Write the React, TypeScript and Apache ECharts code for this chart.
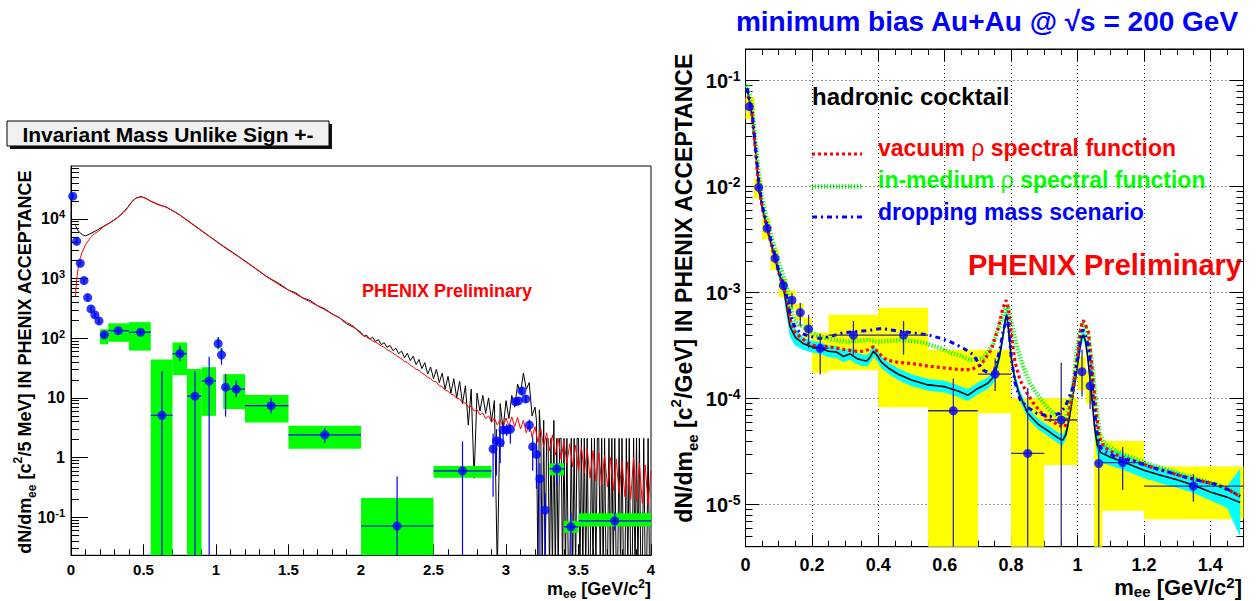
import React, { useEffect, useRef } from "react";
import * as echarts from "echarts";

const FONT = "'Liberation Sans', Arial, Helvetica, sans-serif";

// ================= LEFT PANEL: Invariant Mass Unlike Sign +- =================
const LEFT_X_RANGE = [0, 4];
const LEFT_Y_RANGE = [0.023, 77000];
const leftXMajor = [0, 0.5, 1, 1.5, 2, 2.5, 3, 3.5, 4];
const leftXLabels = ["0", "0.5", "1", "1.5", "2", "2.5", "3", "3.5", "4"];
const leftYDecades = [-1, 0, 1, 2, 3, 4];

// foreground (unlike sign, black histogram)
const fgMassLow = [0.03, 0.045, 0.06, 0.08, 0.1, 0.13, 0.18, 0.22, 0.27, 0.32, 0.36, 0.39, 0.42, 0.45, 0.48, 0.51, 0.55, 0.6, 0.66, 0.75, 0.85, 0.95, 1.05, 1.15, 1.25, 1.35, 1.45, 1.5, 1.55, 1.6, 1.65, 1.7, 1.75, 1.8, 1.85, 1.9, 1.95];
const fgYieldLow = [7800, 6600, 5900, 5400, 5200, 5600, 6500, 7400, 8700, 10500, 12800, 15500, 19500, 22500, 23600, 22600, 19800, 17500, 15700, 11700, 7800, 5200, 3500, 2400, 1620, 1080, 780, 640, 575, 470, 430, 350, 310, 255, 222, 175, 152];
const fgMassMid = [2.0, 2.02, 2.04, 2.06, 2.08, 2.1, 2.12, 2.14, 2.16, 2.18, 2.2, 2.22, 2.24, 2.26, 2.28, 2.3, 2.32, 2.34, 2.36, 2.38, 2.4, 2.42, 2.44, 2.46, 2.48, 2.5, 2.52, 2.54, 2.56, 2.58, 2.6, 2.62, 2.64, 2.66, 2.68, 2.7, 2.72, 2.74, 2.76, 2.78, 2.8, 2.82, 2.84, 2.86, 2.88, 2.9, 2.92, 2.94, 2.96, 2.98, 3.0, 3.02, 3.04, 3.06, 3.08, 3.1, 3.12, 3.14, 3.16, 3.18, 3.2];
const fgYieldMid = [125, 108, 112, 96, 104, 88, 95, 78, 84, 70, 76, 62, 68, 55, 61, 47, 56, 42, 50, 36, 44, 31, 39, 25, 33, 21, 30, 18, 26, 14, 23, 12, 21, 10, 19, 8, 16, 3.5, 14, 0.45, 12, 6, 11, 5.5, 10, 4, 9, 0, 8, 3, 9, 4.5, 11, 7, 17, 12, 26, 14, 18, 5, 7];
const fgMassTail = [3.21, 3.22, 3.23, 3.24, 3.25, 3.26, 3.27, 3.28, 3.29, 3.3, 3.31, 3.32, 3.33, 3.34, 3.35, 3.36, 3.37, 3.38, 3.39, 3.4, 3.41, 3.42, 3.43, 3.44, 3.45, 3.46, 3.47, 3.48, 3.49, 3.5, 3.51, 3.52, 3.53, 3.54, 3.55, 3.56, 3.57, 3.58, 3.59, 3.6, 3.61, 3.62, 3.63, 3.64, 3.65, 3.66, 3.67, 3.68, 3.69, 3.7, 3.71, 3.72, 3.73, 3.74, 3.75, 3.76, 3.77, 3.78, 3.79, 3.8, 3.81, 3.82, 3.83, 3.84, 3.85, 3.86, 3.87, 3.88, 3.89, 3.9, 3.91, 3.92, 3.93, 3.94, 3.95, 3.96, 3.97, 3.98, 3.99, 4.0];
const fgYieldTail = [4.2, 0, 6.3, 2.1, 0, 4.2, 0, 2.1, 2.1, 0, 2.1, 0, 4.2, 0, 2.1, 0, 2.1, 2.1, 0, 2.1, 0, 2.1, 0, 0, 2.1, 0, 2.1, 0, 2.1, 2.1, 0, 2.1, 0, 2.1, 0, 2.1, 0, 0, 2.1, 0, 2.1, 0, 2.1, 2.1, 0, 2.1, 0, 2.1, 0, 0, 2.1, 0, 2.1, 0, 2.1, 0, 0, 2.1, 0, 2.1, 0, 0, 2.1, 0, 2.1, 0, 0, 2.1, 0, 2.1, 0, 2.1, 0, 0, 2.1, 0, 0, 2.1, 0, 0];

// mixed-event background (red histogram)
const bgMassLow = [0.03, 0.04, 0.055, 0.075, 0.1, 0.13, 0.16, 0.2, 0.22, 0.27, 0.32, 0.36, 0.39, 0.42, 0.45, 0.48, 0.51, 0.55, 0.6, 0.66, 0.75, 0.85, 0.95, 1.05, 1.15, 1.25, 1.35, 1.45, 1.5, 1.55, 1.6, 1.65, 1.7, 1.75, 1.8, 1.85, 1.9, 1.95];
const bgYieldLow = [500, 1000, 1900, 2700, 3700, 4700, 5600, 6500, 7300, 8600, 10400, 12700, 15300, 19300, 22300, 23400, 22400, 19700, 17400, 15600, 11600, 7700, 5150, 3450, 2370, 1600, 1070, 750, 640, 550, 470, 405, 350, 300, 258, 220, 185, 158];
const bgMassHigh = [2.0, 2.02, 2.04, 2.06, 2.08, 2.1, 2.12, 2.14, 2.16, 2.18, 2.2, 2.22, 2.24, 2.26, 2.28, 2.3, 2.32, 2.34, 2.36, 2.38, 2.4, 2.42, 2.44, 2.46, 2.48, 2.5, 2.52, 2.54, 2.56, 2.58, 2.6, 2.62, 2.64, 2.66, 2.68, 2.7, 2.72, 2.74, 2.76, 2.78, 2.8, 2.82, 2.84, 2.86, 2.88, 2.9, 2.92, 2.94, 2.96, 2.98, 3.0, 3.02, 3.04, 3.06, 3.08, 3.1, 3.12, 3.14, 3.16, 3.18, 3.2, 3.22, 3.24, 3.26, 3.28, 3.3, 3.32, 3.34, 3.36, 3.38, 3.4, 3.42, 3.44, 3.46, 3.48, 3.5, 3.52, 3.54, 3.56, 3.58, 3.6, 3.62, 3.64, 3.66, 3.68, 3.7, 3.72, 3.74, 3.76, 3.78, 3.8, 3.82, 3.84, 3.86, 3.88, 3.9, 3.92, 3.94, 3.96, 3.98, 4.0];
const bgYieldHigh = [118, 110, 104, 99, 90, 86, 80, 74, 71, 64, 61, 56, 52, 48, 45, 41, 39, 35, 33, 30, 29, 26, 24.5, 22, 21, 19, 18.5, 16, 15.5, 13.5, 13, 11.5, 11.2, 9.8, 9.6, 8.3, 8.2, 7, 7.3, 6, 6.4, 5.2, 5.6, 4.5, 5, 3.9, 4.6, 3.5, 4.3, 3.2, 4.6, 3.4, 4.8, 3.3, 4.7, 3.0, 4.2, 2.6, 3.8, 2.2, 3.3, 1.8, 3.0, 1.5, 2.6, 1.3, 2.4, 1.1, 2.1, 0.95, 1.9, 0.8, 1.7, 0.7, 1.6, 0.6, 1.5, 0.55, 1.4, 0.45, 1.3, 0.4, 1.2, 0.35, 1.1, 0.32, 1.0, 0.28, 0.95, 0.25, 0.9, 0.22, 0.85, 0.2, 1.0, 0.18, 0.8, 0.17, 0.75, 0.16, 0.6];

// signal points (blue), stat errors, systematic boxes (green)
const sigMass = [0.012, 0.039, 0.064, 0.09, 0.115, 0.138, 0.165, 0.193, 0.23, 0.326, 0.48, 0.627, 0.751, 0.855, 0.953, 1.015, 1.038, 1.066, 1.14, 1.38, 1.75, 2.249, 2.7, 2.911, 2.934, 2.96, 2.98, 3.005, 3.03, 3.065, 3.085, 3.11, 3.136, 3.161, 3.184, 3.21, 3.234, 3.27, 3.35, 3.448, 3.75];
const sigYield = [24000, 4200, 1800, 925, 480, 310, 246, 195, 114, 134, 126, 5.1, 55, 10.7, 19.2, 81, 52.6, 15.1, 14.0, 7.4, 2.4, 0.0713, 0.6, 1.39, 1.92, 1.78, 2.9, 2.9, 2.98, 8.65, 8.9, 13.1, 9.6, 3.5, 1.52, 1.13, 0.44, 0.132, 0.645, 0.069, 0.087];
const sigStatLow = [22000, 3900, 1680, 860, 445, 285, 225, 178, 100, 120, 112, 0, 41, 0, 0, 68, 36, 4.85, 10.2, 5.5, 1.75, 0, 0, 0.22, 0.5, 0.8, 1.5, 2.3, 1.7, 7.5, 7.7, 11, 8.3, 2.7, 0.6, 0.3, 0, 0, 0.35, 0, 0.06];
const sigStatHigh = [26000, 4500, 1920, 990, 515, 335, 268, 212, 128, 150, 140, 28, 75, 27.6, 49, 105, 68, 25, 19.5, 10, 3.1, 0.48, 1.86, 2.5, 3.0, 2.8, 3.6, 3.6, 3.6, 10, 10.2, 15, 11, 4.3, 2.2, 1.6, 0.8, 0.25, 0.85, 0.12, 0.12];
const sigBinLow = [0.004, 0.031, 0.056, 0.082, 0.107, 0.13, 0.157, 0.185, 0.2, 0.257, 0.4, 0.55, 0.7, 0.8, 0.9, 1.007, 1.03, 1.05, 1.09, 1.2, 1.5, 2.0, 2.5, 2.903, 2.926, 2.952, 2.972, 2.997, 3.022, 3.057, 3.077, 3.102, 3.128, 3.153, 3.176, 3.202, 3.226, 3.262, 3.3, 3.4, 3.5];
const sigBinHigh = [0.02, 0.047, 0.072, 0.098, 0.123, 0.146, 0.173, 0.201, 0.257, 0.4, 0.55, 0.7, 0.8, 0.9, 1.0, 1.023, 1.046, 1.09, 1.2, 1.5, 2.0, 2.5, 2.9, 2.919, 2.942, 2.968, 2.988, 3.013, 3.038, 3.073, 3.093, 3.118, 3.144, 3.169, 3.192, 3.218, 3.242, 3.278, 3.4, 3.5, 4.0];
const sigHasBinBar = [0, 0, 0, 0, 0, 0, 0, 0, 1, 1, 1, 1, 1, 1, 1, 0, 0, 0, 1, 1, 1, 1, 1, 0, 0, 0, 0, 0, 0, 0, 0, 0, 0, 0, 0, 0, 0, 0, 1, 1, 1];
const sigSysLow = [21000, 3700, 1580, 810, 420, 272, 215, 170, 79, 87, 62, 0, 24, 0, 5.0, 65, 43, 6.5, 6.5, 3.85, 1.4, 0, 0.46, 1.2, 1.65, 1.55, 2.5, 2.5, 2.6, 7.5, 7.7, 11.3, 8.3, 3.0, 1.3, 0.97, 0.38, 0.113, 0.5, 0.055, 0.07];
const sigSysHigh = [27000, 4800, 2050, 1050, 545, 352, 280, 222, 141, 178, 186, 44, 85, 30.5, 32.7, 100, 68, 25, 25, 11.2, 3.4, 0.21, 0.72, 1.6, 2.2, 2.05, 3.35, 3.35, 3.45, 10, 10.3, 15.2, 11.1, 4.05, 1.76, 1.31, 0.51, 0.153, 0.8, 0.087, 0.117];

// ================= RIGHT PANEL: minimum bias Au+Au =================
const RIGHT_X_RANGE = [0, 1.5];
const RIGHT_Y_RANGE = [4.02e-6, 0.199];
const rightXMajor = [0, 0.2, 0.4, 0.6, 0.8, 1, 1.2, 1.4];
const rightXLabels = ["0", "0.2", "0.4", "0.6", "0.8", "1", "1.2", "1.4"];
const rightXMinor = [0.05, 0.1, 0.15, 0.25, 0.3, 0.35, 0.45, 0.5, 0.55, 0.65, 0.7, 0.75, 0.85, 0.9, 0.95, 1.05, 1.1, 1.15, 1.25, 1.3, 1.35, 1.45];
const rightYDecades = [-5, -4, -3, -2, -1];

// hadronic cocktail (black line) and its systematic band (cyan, half width in decades)
const cocktailMass = [0.005, 0.01, 0.02, 0.03, 0.04, 0.052, 0.065, 0.077, 0.089, 0.101, 0.114, 0.124, 0.134, 0.15, 0.175, 0.2, 0.225, 0.25, 0.275, 0.295, 0.315, 0.335, 0.35, 0.365, 0.375, 0.385, 0.395, 0.41, 0.43, 0.46, 0.5, 0.55, 0.6, 0.64, 0.67, 0.7, 0.73, 0.75, 0.765, 0.775, 0.782, 0.787, 0.792, 0.8, 0.81, 0.825, 0.85, 0.88, 0.91, 0.94, 0.955, 0.965, 0.975, 0.985, 0.995, 1.005, 1.012, 1.018, 1.024, 1.03, 1.038, 1.045, 1.052, 1.06, 1.07, 1.1, 1.15, 1.2, 1.25, 1.3, 1.35, 1.4, 1.45, 1.49];
const cocktailYield = [0.085, 0.068, 0.047, 0.022, 0.0098, 0.006, 0.0041, 0.0029, 0.0021, 0.00152, 0.00115, 0.00074, 0.00048, 0.00038, 0.00033, 0.00031, 0.0003, 0.00028, 0.000275, 0.00025, 0.000265, 0.00024, 0.000232, 0.000227, 0.000245, 0.00028, 0.00026, 0.00022, 0.000195, 0.00017, 0.00015, 0.000135, 0.00013, 0.000118, 0.000108, 0.000125, 0.00014, 0.000165, 0.00025, 0.00038, 0.00055, 0.00062, 0.00045, 0.00025, 0.00016, 0.00011, 7.3e-5, 5.8e-5, 5e-5, 4.3e-5, 4.05e-5, 4.6e-5, 6.5e-5, 1e-4, 1.6e-4, 2.7e-4, 3.7e-4, 4e-4, 3.5e-4, 2.6e-4, 1.5e-4, 9e-5, 5.2e-5, 3.6e-5, 3.1e-5, 2.8e-5, 2.45e-5, 2.12e-5, 1.9e-5, 1.72e-5, 1.53e-5, 1.32e-5, 1.18e-5, 1.05e-5];
const cocktailSysDex = [0.05, 0.05, 0.05, 0.05, 0.05, 0.05, 0.05, 0.05, 0.05, 0.06, 0.07, 0.09, 0.1, 0.08, 0.06, 0.055, 0.055, 0.055, 0.055, 0.055, 0.055, 0.055, 0.055, 0.055, 0.055, 0.055, 0.055, 0.055, 0.055, 0.055, 0.055, 0.055, 0.055, 0.055, 0.055, 0.055, 0.055, 0.055, 0.055, 0.055, 0.055, 0.055, 0.055, 0.055, 0.055, 0.05, 0.05, 0.05, 0.05, 0.05, 0.05, 0.05, 0.05, 0.05, 0.05, 0.05, 0.05, 0.05, 0.05, 0.05, 0.05, 0.06, 0.08, 0.1, 0.09, 0.08, 0.075, 0.075, 0.075, 0.075, 0.075, 0.08, 0.1, 0.32];

// vacuum rho spectral function (red dotted)
const vacuumMass = [0.005, 0.01, 0.02, 0.03, 0.04, 0.052, 0.065, 0.077, 0.089, 0.101, 0.114, 0.125, 0.135, 0.15, 0.175, 0.2, 0.25, 0.3, 0.345, 0.37, 0.385, 0.4, 0.425, 0.46, 0.5, 0.55, 0.6, 0.65, 0.68, 0.71, 0.74, 0.76, 0.775, 0.785, 0.792, 0.8, 0.812, 0.827, 0.85, 0.867, 0.89, 0.917, 0.945, 0.962, 0.972, 0.982, 0.992, 1.003, 1.01, 1.017, 1.024, 1.033, 1.04, 1.048, 1.056, 1.066, 1.08, 1.118, 1.17, 1.218, 1.27, 1.319, 1.37, 1.42, 1.46, 1.49];
const vacuumYield = [0.082, 0.067, 0.047, 0.022, 0.0099, 0.006, 0.0041, 0.0029, 0.0021, 0.00152, 0.00116, 0.00085, 0.00055, 0.00042, 0.00036, 0.00032, 0.00031, 0.00029, 0.000277, 0.00029, 0.00031, 0.00027, 0.000232, 0.00022, 0.000215, 0.000203, 0.000195, 0.000188, 0.000188, 0.00021, 0.00029, 0.00045, 0.00071, 0.00085, 0.0007, 0.00042, 0.00022, 0.00015, 0.00011, 9.1e-5, 7.4e-5, 6.3e-5, 5.6e-5, 5.4e-5, 6.8e-5, 1e-4, 1.7e-4, 3e-4, 4.7e-4, 5.5e-4, 5e-4, 4.2e-4, 2.5e-4, 1.4e-4, 7.5e-5, 4.3e-5, 3.5e-5, 2.95e-5, 2.6e-5, 2.29e-5, 2.05e-5, 1.84e-5, 1.68e-5, 1.55e-5, 1.35e-5, 1.2e-5];

// in-medium rho spectral function (green)
const inMediumMass = [0.005, 0.01, 0.02, 0.03, 0.04, 0.05, 0.065, 0.08, 0.09, 0.1, 0.115, 0.125, 0.135, 0.145, 0.16, 0.184, 0.21, 0.245, 0.3, 0.365, 0.405, 0.465, 0.525, 0.586, 0.62, 0.646, 0.676, 0.716, 0.746, 0.765, 0.777, 0.789, 0.797, 0.805, 0.82, 0.837, 0.857, 0.877, 0.9, 0.917, 0.94, 0.962, 0.972, 0.982, 0.99, 0.997, 1.007, 1.016, 1.025, 1.033, 1.04, 1.048, 1.056, 1.066, 1.08, 1.118, 1.17, 1.218, 1.27, 1.319, 1.37, 1.42, 1.46, 1.49];
const inMediumYield = [0.09, 0.078, 0.055, 0.027, 0.013, 0.0078, 0.0048, 0.0032, 0.0025, 0.0019, 0.0014, 0.0011, 0.00075, 0.00056, 0.0005, 0.00046, 0.0004, 0.00037, 0.000345, 0.000358, 0.000345, 0.000358, 0.000345, 0.0003, 0.00027, 0.000255, 0.000232, 0.00024, 0.00033, 0.00049, 0.00064, 0.00077, 0.0006, 0.00045, 0.00029, 0.0002, 0.00014, 0.000112, 8.9e-5, 7.8e-5, 6.8e-5, 6.3e-5, 7.8e-5, 1.05e-4, 1.6e-4, 2.7e-4, 4.2e-4, 5.1e-4, 4.7e-4, 3.8e-4, 2.6e-4, 1.63e-4, 9e-5, 4.7e-5, 3.8e-5, 3.2e-5, 2.75e-5, 2.4e-5, 2.15e-5, 1.9e-5, 1.72e-5, 1.55e-5, 1.38e-5, 1.22e-5];

// dropping mass scenario (blue dash-dot)
const droppingMass = [0.005, 0.01, 0.02, 0.03, 0.04, 0.05, 0.065, 0.08, 0.09, 0.1, 0.115, 0.125, 0.135, 0.145, 0.164, 0.19, 0.225, 0.26, 0.295, 0.33, 0.37, 0.41, 0.45, 0.5, 0.55, 0.59, 0.616, 0.656, 0.686, 0.716, 0.746, 0.765, 0.777, 0.789, 0.795, 0.8, 0.812, 0.827, 0.85, 0.877, 0.917, 0.947, 0.962, 0.972, 0.987, 1.002, 1.01, 1.016, 1.024, 1.033, 1.04, 1.048, 1.056, 1.066, 1.08, 1.118, 1.17, 1.218, 1.27, 1.319, 1.37, 1.42, 1.46, 1.49];
const droppingYield = [0.085, 0.072, 0.05, 0.024, 0.011, 0.0068, 0.0043, 0.0029, 0.0022, 0.0016, 0.0012, 0.0009, 0.00062, 0.0005, 0.00042, 0.00039, 0.00037, 0.00039, 0.00042, 0.00043, 0.00044, 0.00046, 0.00044, 0.00042, 0.0004, 0.00037, 0.000345, 0.0003, 0.00026, 0.000186, 0.000167, 0.00028, 0.00045, 0.00058, 0.0004, 0.00025, 0.00014, 9.8e-5, 8.3e-5, 7.3e-5, 6.8e-5, 7.3e-5, 8.3e-5, 9.8e-5, 1.3e-4, 2.5e-4, 3.8e-4, 4.5e-4, 4e-4, 3.1e-4, 2e-4, 9.8e-5, 5.5e-5, 3.6e-5, 3.2e-5, 2.8e-5, 2.55e-5, 2.28e-5, 2.05e-5, 1.84e-5, 1.68e-5, 1.55e-5, 1.36e-5, 1.2e-5];

// measured points (blue), stat errors, systematic boxes (yellow)
const dataMass = [0.0115, 0.0398, 0.065, 0.089, 0.114, 0.14, 0.165, 0.19, 0.225, 0.325, 0.476, 0.626, 0.752, 0.85, 0.951, 1.0136, 1.038, 1.064, 1.136, 1.349];
const dataYield = [0.0569, 0.00987, 0.00405, 0.00211, 0.00117, 0.00085, 0.00065, 0.000455, 0.000299, 0.000398, 0.000398, 7.7e-5, 0.000171, 3.05e-5, 6.3e-5, 0.00018, 0.000132, 2.45e-5, 2.5e-5, 1.5e-5];
const dataStatLow = [0.054, 0.0094, 0.00385, 0.002, 0.00105, 0.00072, 0.00048, 0.0003, 0.00017, 0.00026, 0.00026, 0, 0.000118, 0, 0, 0.000105, 8e-5, 0, 1.38e-5, 1.07e-5];
const dataStatHigh = [0.06, 0.0104, 0.00426, 0.00223, 0.0013, 0.001, 0.0008, 0.00062, 0.00041, 0.00054, 0.00054, 0.000155, 0.00024, 0.000126, 0.00022, 0.00029, 0.00019, 4e-5, 3.5e-5, 1.95e-5];
const dataBinLow = [0, 0.025, 0.05, 0.075, 0.1, 0.125, 0.15, 0.175, 0.2, 0.25, 0.4, 0.55, 0.7, 0.8, 0.9, 1.0, 1.025, 1.05, 1.075, 1.2];
const dataBinHigh = [0.028, 0.05, 0.075, 0.1, 0.125, 0.15, 0.175, 0.2, 0.25, 0.4, 0.55, 0.7, 0.8, 0.9, 1.0, 1.025, 1.05, 1.075, 1.2, 1.5];
const dataHasBinBar = [0, 0, 0, 0, 0, 0, 0, 0, 1, 1, 1, 1, 1, 1, 1, 0, 0, 0, 1, 1];
const dataSysLow = [0.0433, 0.00776, 0.00319, 0.00164, 0.00091, 0.00071, 0.00055, 0.00037, 0.000176, 0.000186, 8.3e-5, 0, 7.3e-5, 0, 2.37e-5, 0.00012, 9e-5, 0, 8.8e-6, 7.3e-6];
const dataSysHigh = [0.0697, 0.012, 0.00501, 0.00257, 0.00135, 0.00105, 0.00079, 0.00058, 0.00042, 0.00062, 0.00072, 0.00029, 0.00029, 0.000101, 0.000101, 0.00025, 0.00018, 4.7e-5, 4e-5, 2.29e-5];

// ================= helpers =================
const lg = (v: number, floor: number) => (v > 0 ? Math.max(Math.log10(v), floor) : floor);

function minorLogTicks(lo: number, hi: number) {
  const out: number[] = [];
  for (let k = Math.floor(lo) - 1; k <= Math.ceil(hi); k++) {
    for (let j = 2; j <= 9; j++) {
      const v = k + Math.log10(j);
      if (v > lo + 1e-6 && v < hi - 1e-6) out.push(v);
    }
  }
  return out;
}

function leftXMinorTicks() {
  const out: number[] = [];
  for (let i = 1; i < 40; i++) if (i % 5 !== 0) out.push(i / 10);
  return out;
}

const black = "#000";

function boxSeries(xi: number, yi: number, items: number[][], color: string, z: number) {
  return {
    type: "custom",
    xAxisIndex: xi,
    yAxisIndex: yi,
    silent: true,
    z,
    dimensions: ["x0", "x1", "y0", "y1"],
    encode: { x: [0, 1], y: [2, 3] },
    data: items,
    renderItem: (_p: any, api: any) => {
      const a = api.coord([api.value(0), api.value(3)]);
      const b = api.coord([api.value(1), api.value(2)]);
      return {
        type: "rect",
        shape: { x: a[0], y: a[1], width: b[0] - a[0], height: b[1] - a[1] },
        style: { fill: color },
      };
    },
  };
}

function errSeries(xi: number, yi: number, items: number[][], color: string, width: number, z: number) {
  return {
    type: "custom",
    xAxisIndex: xi,
    yAxisIndex: yi,
    silent: true,
    z,
    dimensions: ["x", "ylo", "yhi", "xlo", "xhi", "y"],
    encode: { x: [0, 3, 4], y: [1, 2, 5] },
    data: items,
    renderItem: (_p: any, api: any) => {
      const top = api.coord([api.value(0), api.value(2)]);
      const bot = api.coord([api.value(0), api.value(1)]);
      const children: any[] = [
        { type: "line", shape: { x1: top[0], y1: top[1], x2: bot[0], y2: bot[1] }, style: { stroke: color, lineWidth: width } },
      ];
      if (api.value(4) > api.value(3)) {
        const l = api.coord([api.value(3), api.value(5)]);
        const r = api.coord([api.value(4), api.value(5)]);
        children.push({ type: "line", shape: { x1: l[0], y1: l[1], x2: r[0], y2: r[1] }, style: { stroke: color, lineWidth: width } });
      }
      return { type: "group", children };
    },
  };
}

const supRich = (size: number) => ({
  s: { fontSize: size, fontWeight: "bold", fontFamily: FONT, color: black, verticalAlign: "top", lineHeight: size },
});

function buildOption() {
  const LMIN = Math.log10(LEFT_Y_RANGE[0]);
  const LMAX = Math.log10(LEFT_Y_RANGE[1]);
  const RMIN = Math.log10(RIGHT_Y_RANGE[0]);
  const RMAX = Math.log10(RIGHT_Y_RANGE[1]);

  // ---- left data
  const fgMass = [...fgMassLow, ...fgMassMid, ...fgMassTail];
  const fgYield = [...fgYieldLow, ...fgYieldMid, ...fgYieldTail];
  const fgData = fgMass.map((m, i) => [m, lg(fgYield[i], LMIN - 0.3)]);
  const bgMass = [...bgMassLow, ...bgMassHigh];
  const bgYield = [...bgYieldLow, ...bgYieldHigh];
  const bgData = bgMass.map((m, i) => [m, lg(bgYield[i], LMIN - 0.3)]);
  const sigBoxes = sigMass.map((_m, i) => [sigBinLow[i], sigBinHigh[i], lg(sigSysLow[i], LMIN), lg(sigSysHigh[i], LMIN)]);
  const sigErr = sigMass.map((m, i) => [
    m,
    lg(sigStatLow[i], LMIN),
    lg(sigStatHigh[i], LMIN),
    sigHasBinBar[i] ? sigBinLow[i] : m,
    sigHasBinBar[i] ? sigBinHigh[i] : m,
    lg(sigYield[i], LMIN),
  ]);
  const sigPts = sigMass.map((m, i) => [m, lg(sigYield[i], LMIN)]);

  // ---- right data
  const toLine = (ms: number[], ys: number[]) => ms.map((m, i) => [m, lg(ys[i], RMIN - 0.3)]);
  const dataBoxes = dataMass.map((_m, i) => [dataBinLow[i], dataBinHigh[i], lg(dataSysLow[i], RMIN), lg(dataSysHigh[i], RMIN)]);
  const dataErr = dataMass.map((m, i) => [
    m,
    lg(dataStatLow[i], RMIN),
    lg(dataStatHigh[i], RMIN),
    dataHasBinBar[i] ? dataBinLow[i] : m,
    dataHasBinBar[i] ? dataBinHigh[i] : m,
    lg(dataYield[i], RMIN),
  ]);
  const dataPts = dataMass.map((m, i) => [m, lg(dataYield[i], RMIN)]);

  const bandSeries = {
    type: "custom",
    xAxisIndex: 2,
    yAxisIndex: 2,
    silent: true,
    z: 2,
    data: [[0, RMIN]],
    renderItem: (_p: any, api: any) => {
      const upper = cocktailMass.map((m, i) => api.coord([m, Math.log10(cocktailYield[i]) + cocktailSysDex[i]]));
      const lower = cocktailMass.map((m, i) => api.coord([m, Math.log10(cocktailYield[i]) - cocktailSysDex[i]])).reverse();
      return { type: "polygon", shape: { points: [...upper, ...lower] }, style: { fill: "#00ffff" } };
    },
  };

  const axisLineStyle = { color: black, width: 1 };
  const noSplit = { show: false };

  const leftYFmt = (v: number) => {
    const k = Math.round(v);
    if (k === 0) return "1";
    if (k === 1) return "10";
    return "10{s|" + k + "}";
  };
  const rightYFmt = (v: number) => "10{s|" + Math.round(v) + "}";

  const xAxis = [
    // 0: left bottom major
    {
      gridIndex: 0, type: "value", min: LEFT_X_RANGE[0], max: LEFT_X_RANGE[1], position: "bottom",
      axisLine: { show: true, onZero: false, lineStyle: axisLineStyle },
      axisTick: { show: true, inside: true, length: 11, customValues: leftXMajor, lineStyle: axisLineStyle },
      axisLabel: {
        show: true, customValues: leftXMajor, margin: 7, fontSize: 15, fontWeight: "bold", fontFamily: FONT, color: black,
        formatter: (v: number) => leftXLabels[leftXMajor.indexOf(v)] ?? String(v),
      },
      splitLine: noSplit,
    },
    // 1: left bottom minor
    {
      gridIndex: 0, type: "value", min: LEFT_X_RANGE[0], max: LEFT_X_RANGE[1], position: "bottom",
      axisLine: { show: false, onZero: false },
      axisTick: { show: true, inside: true, length: 6, customValues: leftXMinorTicks(), lineStyle: axisLineStyle },
      axisLabel: { show: false }, splitLine: noSplit,
    },
    // 2: right bottom major
    {
      gridIndex: 1, type: "value", min: RIGHT_X_RANGE[0], max: RIGHT_X_RANGE[1], position: "bottom",
      axisLine: { show: true, onZero: false, lineStyle: axisLineStyle },
      axisTick: { show: true, inside: true, length: 12, customValues: rightXMajor, lineStyle: axisLineStyle },
      axisLabel: {
        show: true, customValues: rightXMajor, margin: 9, fontSize: 18, fontWeight: "bold", fontFamily: FONT, color: black,
        formatter: (v: number) => rightXLabels[rightXMajor.indexOf(v)] ?? String(v),
      },
      splitLine: { show: true, lineStyle: { color: "#333", width: 1, type: [1, 3] } },
    },
    // 3: right bottom minor
    {
      gridIndex: 1, type: "value", min: RIGHT_X_RANGE[0], max: RIGHT_X_RANGE[1], position: "bottom",
      axisLine: { show: false, onZero: false },
      axisTick: { show: true, inside: true, length: 6, customValues: rightXMinor, lineStyle: axisLineStyle },
      axisLabel: { show: false }, splitLine: noSplit,
    },
    // 4: right top major
    {
      gridIndex: 1, type: "value", min: RIGHT_X_RANGE[0], max: RIGHT_X_RANGE[1], position: "top",
      axisLine: { show: true, onZero: false, lineStyle: axisLineStyle },
      axisTick: { show: true, inside: true, length: 12, customValues: rightXMajor, lineStyle: axisLineStyle },
      axisLabel: { show: false }, splitLine: noSplit,
    },
    // 5: right top minor
    {
      gridIndex: 1, type: "value", min: RIGHT_X_RANGE[0], max: RIGHT_X_RANGE[1], position: "top",
      axisLine: { show: false, onZero: false },
      axisTick: { show: true, inside: true, length: 6, customValues: rightXMinor, lineStyle: axisLineStyle },
      axisLabel: { show: false }, splitLine: noSplit,
    },
  ];

  const yAxis = [
    // 0: left major
    {
      gridIndex: 0, type: "value", min: LMIN, max: LMAX, position: "left",
      axisLine: { show: true, onZero: false, lineStyle: axisLineStyle },
      axisTick: { show: true, inside: true, length: 17, customValues: leftYDecades, lineStyle: axisLineStyle },
      axisLabel: {
        show: true, customValues: leftYDecades, margin: 6, fontSize: 16, fontWeight: "bold", fontFamily: FONT, color: black,
        lineHeight: 20, formatter: leftYFmt, rich: supRich(11),
      },
      splitLine: noSplit,
    },
    // 1: left minor
    {
      gridIndex: 0, type: "value", min: LMIN, max: LMAX, position: "left",
      axisLine: { show: false, onZero: false },
      axisTick: { show: true, inside: true, length: 8, customValues: minorLogTicks(LMIN, LMAX), lineStyle: axisLineStyle },
      axisLabel: { show: false }, splitLine: noSplit,
    },
    // 2: right panel left major
    {
      gridIndex: 1, type: "value", min: RMIN, max: RMAX, position: "left",
      axisLine: { show: true, onZero: false, lineStyle: axisLineStyle },
      axisTick: { show: true, inside: true, length: 14, customValues: rightYDecades, lineStyle: axisLineStyle },
      axisLabel: {
        show: true, customValues: rightYDecades, margin: 5, fontSize: 20, fontWeight: "bold", fontFamily: FONT, color: black,
        lineHeight: 24, formatter: rightYFmt, rich: supRich(14),
      },
      splitLine: { show: true, lineStyle: { color: "#333", width: 1, type: [1, 3] } },
    },
    // 3: right panel left minor
    {
      gridIndex: 1, type: "value", min: RMIN, max: RMAX, position: "left",
      axisLine: { show: false, onZero: false },
      axisTick: { show: true, inside: true, length: 7, customValues: minorLogTicks(RMIN, RMAX), lineStyle: axisLineStyle },
      axisLabel: { show: false }, splitLine: noSplit,
    },
    // 4: right panel right major
    {
      gridIndex: 1, type: "value", min: RMIN, max: RMAX, position: "right",
      axisLine: { show: true, onZero: false, lineStyle: axisLineStyle },
      axisTick: { show: true, inside: true, length: 14, customValues: rightYDecades, lineStyle: axisLineStyle },
      axisLabel: { show: false }, splitLine: noSplit,
    },
    // 5: right panel right minor
    {
      gridIndex: 1, type: "value", min: RMIN, max: RMAX, position: "right",
      axisLine: { show: false, onZero: false },
      axisTick: { show: true, inside: true, length: 7, customValues: minorLogTicks(RMIN, RMAX), lineStyle: axisLineStyle },
      axisLabel: { show: false }, splitLine: noSplit,
    },
  ];

  const lineBase = { type: "line", symbol: "none", silent: true, animation: false, smooth: false };

  const series: any[] = [
    // ----- left
    { ...lineBase, name: "unlike sign", xAxisIndex: 0, yAxisIndex: 0, z: 2, data: fgData, lineStyle: { color: black, width: 1 } },
    { ...lineBase, name: "mixed background", xAxisIndex: 0, yAxisIndex: 0, z: 3, data: bgData, lineStyle: { color: "#ff0000", width: 1 } },
    boxSeries(0, 0, sigBoxes, "#00ff00", 4),
    errSeries(0, 0, sigErr, "#0000ff", 1.2, 5),
    { type: "scatter", xAxisIndex: 0, yAxisIndex: 0, z: 6, silent: true, symbol: "circle", symbolSize: 9, itemStyle: { color: "#0000ff" }, data: sigPts },
    // ----- right
    boxSeries(2, 2, dataBoxes, "#ffff00", 1),
    bandSeries,
    { ...lineBase, name: "hadronic cocktail", xAxisIndex: 2, yAxisIndex: 2, z: 3, data: toLine(cocktailMass, cocktailYield), lineStyle: { color: black, width: 1.6 } },
    { ...lineBase, name: "in-medium", xAxisIndex: 2, yAxisIndex: 2, z: 4, data: toLine(inMediumMass, inMediumYield), lineStyle: { color: "#00ff00", width: 4.5, type: [1.2, 1.8] } },
    { ...lineBase, name: "vacuum", xAxisIndex: 2, yAxisIndex: 2, z: 4, data: toLine(vacuumMass, vacuumYield), lineStyle: { color: "#ff0000", width: 3.2, type: [3, 3] } },
    { ...lineBase, name: "dropping mass", xAxisIndex: 2, yAxisIndex: 2, z: 4, data: toLine(droppingMass, droppingYield), lineStyle: { color: "#0000ff", width: 3, type: [5, 4, 2, 4] } },
    errSeries(2, 2, dataErr, "#2d2d8a", 1.3, 5),
    { type: "scatter", xAxisIndex: 2, yAxisIndex: 2, z: 6, silent: true, symbol: "circle", symbolSize: 9, itemStyle: { color: "#0000ff" }, data: dataPts },
  ];

  const txt = (x: number, y: number, text: string, size: number, fill: string, align = "left", extra: any = {}) => ({
    type: "text", x, y, silent: true,
    style: { text, fontSize: size, fontWeight: "bold", fontFamily: FONT, fill, align, verticalAlign: "middle", ...extra },
  });
  const subSup = (size: number) => ({
    sub: { fontSize: size, fontWeight: "bold", fontFamily: FONT, fill: black, lineHeight: size, verticalAlign: "bottom" },
    sup: { fontSize: size, fontWeight: "bold", fontFamily: FONT, fill: black, lineHeight: size, verticalAlign: "top" },
  });

  const graphic = [
    // left title box
    { type: "rect", silent: true, shape: { x: 10, y: 124, width: 322, height: 25 }, style: { fill: "#111" } },
    { type: "rect", silent: true, shape: { x: 7, y: 121, width: 322, height: 25 }, style: { fill: "#f0f0f0", stroke: black, lineWidth: 1 } },
    txt(168, 134, "Invariant Mass Unlike Sign +-", 21, black, "center"),
    // left axis titles
    { ...txt(25, 362, "dN/dm{sub|ee} [c{sup|2}/5 MeV] IN PHENIX ACCEPTANCE", 18, black, "center", { lineHeight: 26, rich: subSup(12) }), rotation: Math.PI / 2 },
    txt(651, 589, "m{sub|ee} [GeV/c{sup|2}]", 18, black, "right", { lineHeight: 22, rich: subSup(12) }),
    txt(362, 291, "PHENIX Preliminary", 18, "#ff0000"),
    // right panel texts
    txt(987, 21, "minimum bias Au+Au @ \u221As = 200 GeV", 28, "#0000ff", "center"),
    { ...txt(684, 288, "dN/dm{sub|ee} [c{sup|2}/GeV] IN PHENIX ACCEPTANCE", 23, black, "center", { lineHeight: 32, rich: subSup(15) }), rotation: Math.PI / 2 },
    txt(1242, 587, "m{sub|ee} [GeV/c{sup|2}]", 22, black, "right", { lineHeight: 24, rich: subSup(15) }),
    txt(812, 96, "hadronic cocktail", 24, black),
    { type: "line", silent: true, shape: { x1: 812, y1: 154, x2: 862, y2: 154 }, style: { stroke: "#ff0000", lineWidth: 3.2, lineDash: [3, 3] } },
    txt(878, 148, "vacuum {r|\u03C1} spectral function", 23, "#ff0000", "left", { rich: { r: { fontSize: 23, fontWeight: "normal", fontFamily: FONT, fill: "#ff0000" } } }),
    { type: "line", silent: true, shape: { x1: 812, y1: 186.5, x2: 862, y2: 186.5 }, style: { stroke: "#00ff00", lineWidth: 4.5, lineDash: [1.2, 1.8] } },
    txt(878, 180, "in-medium {r|\u03C1} spectral function", 23, "#00ff00", "left", { rich: { r: { fontSize: 23, fontWeight: "normal", fontFamily: FONT, fill: "#00ff00" } } }),
    { type: "line", silent: true, shape: { x1: 812, y1: 217, x2: 862, y2: 217 }, style: { stroke: "#0000ff", lineWidth: 3, lineDash: [5, 4, 2, 4] } },
    txt(878, 212, "dropping mass scenario", 23, "#0000ff"),
    txt(968, 265, "PHENIX Preliminary", 29, "#ff0000"),
  ];

  return {
    animation: false,
    backgroundColor: "#ffffff",
    textStyle: { fontFamily: FONT },
    grid: [
      { left: 71, top: 166, width: 580, height: 389.3, show: true, borderColor: black, borderWidth: 1, backgroundColor: "transparent", containLabel: false },
      { left: 745.5, top: 49, width: 498, height: 497.7, show: true, borderColor: black, borderWidth: 1, backgroundColor: "transparent", containLabel: false },
    ],
    xAxis,
    yAxis,
    series,
    graphic,
  };
}

export default function App() {
  const ref = useRef<HTMLDivElement>(null);
  useEffect(() => {
    document.body.style.margin = "0";
    const chart = echarts.init(ref.current!, null, { renderer: "svg" });
    chart.setOption(buildOption() as any);
    return () => chart.dispose();
  }, []);
  return <div ref={ref} style={{ width: 1256, height: 601 }} />;
}
